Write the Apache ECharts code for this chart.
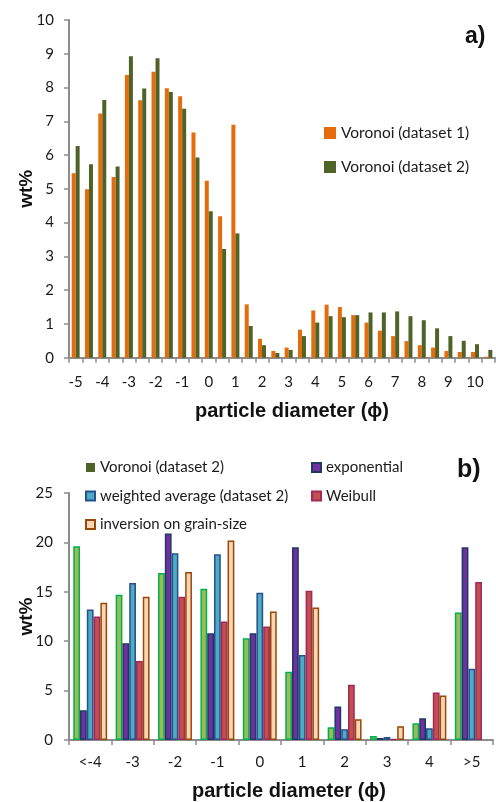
<!DOCTYPE html>
<html>
<head>
<meta charset="utf-8">
<script src="https://cdn.jsdelivr.net/npm/echarts@6/dist/echarts.min.js"></script>
<style>
html,body{margin:0;padding:0;background:#fff;}
#chart{width:496px;height:802px;}
</style>
</head>
<body>
<div id="chart"></div>
<script>
// ---- Panel a data ----
const catsA = ['-5','-4.5','-4','-3.5','-3','-2.5','-2','-1.5','-1','-0.5','0','0.5','1','1.5','2','2.5','3','3.5','4','4.5','5','5.5','6','6.5','7','7.5','8','8.5','9','9.5','10','10.5'];
const voronoi1A = [5.46, 4.99, 7.23, 5.35, 8.37, 7.62, 8.47, 7.98, 7.74, 6.67, 5.24, 4.19, 6.90, 1.58, 0.56, 0.20, 0.30, 0.83, 1.40, 1.57, 1.50, 1.26, 1.04, 0.80, 0.64, 0.49, 0.37, 0.30, 0.20, 0.17, 0.17, 0.03];
const voronoi2A = [6.27, 5.73, 7.63, 5.66, 8.93, 7.97, 8.87, 7.87, 7.37, 5.93, 4.34, 3.22, 3.68, 0.94, 0.37, 0.14, 0.23, 0.64, 1.04, 1.23, 1.20, 1.26, 1.34, 1.34, 1.37, 1.23, 1.11, 0.87, 0.64, 0.50, 0.40, 0.23];
const namesA = ['Voronoi (dataset 1)', 'Voronoi (dataset 2)'];

// ---- Panel b data ----
const catsB = ['<-4','-3','-2','-1','0','1','2','3','4','>5'];
const voronoi2B = [19.6, 14.7, 16.9, 15.3, 10.3, 6.9, 1.3, 0.4, 1.7, 12.9];
const exponentialB = [3.0, 9.8, 20.9, 10.8, 10.8, 19.5, 3.4, 0.2, 2.2, 19.5];
const weightedB = [13.2, 15.9, 18.9, 18.8, 14.9, 8.6, 1.1, 0.3, 1.2, 7.2];
const weibullB = [12.5, 8.0, 14.5, 12.0, 11.5, 15.1, 5.6, 0.1, 4.8, 16.0];
const inversionB = [13.9, 14.5, 17.0, 20.2, 13.0, 13.4, 2.1, 1.4, 4.5, null];
const namesB = ['Voronoi (dataset 2)', 'exponential', 'weighted average (dataset 2)', 'Weibull', 'inversion on grain-size'];

const labelFont = 'Lato';
const titleFont = 'Liberation Sans';
const axisGray = '#8c8c8c';

const chart = echarts.init(document.getElementById('chart'), null, {renderer: 'canvas'});

function xAxisCommon(extra) {
  return Object.assign({
    type: 'category',
    boundaryGap: true,
    axisLine: {show: true, lineStyle: {color: axisGray, width: 2}},
    axisTick: {show: true, interval: 0, length: 5, lineStyle: {color: axisGray, width: 1.5}},
    splitLine: {show: false},
    nameLocation: 'middle'
  }, extra);
}
function yAxisCommon(extra) {
  return Object.assign({
    type: 'value',
    axisLine: {show: true, lineStyle: {color: axisGray, width: 2}},
    axisTick: {show: true, length: 5, lineStyle: {color: axisGray, width: 1.5}},
    splitLine: {show: false},
    nameLocation: 'middle',
    nameRotate: 90,
    nameMoveOverlap: false,
    nameTextStyle: {fontFamily: titleFont, fontWeight: 'bold', fontSize: 19, color: '#111'}
  }, extra);
}

const option = {
  animation: false,
  backgroundColor: '#fff',
  grid: [
    {left: 69, top: 20, width: 426, height: 337.7, containLabel: false},
    {left: 69, top: 493, width: 424, height: 250, containLabel: false}
  ],
  xAxis: [
    xAxisCommon({
      gridIndex: 0, data: catsA,
      name: 'particle diameter (\u03d5)', nameGap: 44,
      nameTextStyle: {fontFamily: titleFont, fontWeight: 'bold', fontSize: 20, color: '#111', padding: [0, 0, 0, 20]},
      axisLabel: {interval: 1, margin: 17, fontFamily: labelFont, fontSize: 15, color: '#1a1a1a'}
    }),
    xAxisCommon({
      gridIndex: 1, data: catsB,
      name: 'particle diameter (\u03d5)', nameGap: 41,
      nameTextStyle: {fontFamily: titleFont, fontWeight: 'bold', fontSize: 20, color: '#111', padding: [0, 0, 0, 16]},
      axisLabel: {interval: 0, margin: 15, fontFamily: labelFont, fontSize: 15, color: '#1a1a1a'}
    })
  ],
  yAxis: [
    yAxisCommon({
      gridIndex: 0, min: 0, max: 10, interval: 1,
      name: 'wt%', nameGap: 33,
      axisLabel: {margin: 15, fontFamily: labelFont, fontSize: 15, color: '#1a1a1a'}
    }),
    yAxisCommon({
      gridIndex: 1, min: 0, max: 25, interval: 5,
      name: 'wt%', nameGap: 33,
      axisLabel: {margin: 16, fontFamily: labelFont, fontSize: 15, color: '#1a1a1a'}
    })
  ],
  legend: [
    {
      data: namesA, orient: 'vertical', left: 319, top: 119,
      icon: 'rect', itemWidth: 12, itemHeight: 12, itemGap: 16, itemTextGap: 4,
      textStyle: {fontFamily: labelFont, fontSize: 15.5, color: '#1a1a1a', lineHeight: 18},
      selectedMode: false
    },
    {
      data: [namesB[0], namesB[2], namesB[4]], orient: 'vertical', left: 80, top: 454,
      icon: 'rect', itemWidth: 9, itemHeight: 9, itemGap: 11.5, itemTextGap: 5,
      textStyle: {fontFamily: labelFont, fontSize: 15, color: '#1a1a1a', lineHeight: 17},
      selectedMode: false
    },
    {
      data: [namesB[1], namesB[3]], orient: 'vertical', left: 306, top: 454,
      icon: 'rect', itemWidth: 9, itemHeight: 9, itemGap: 11.5, itemTextGap: 5,
      textStyle: {fontFamily: labelFont, fontSize: 15, color: '#1a1a1a', lineHeight: 17},
      selectedMode: false
    }
  ],
  graphic: [
    {type: 'text', left: 465, top: 25, style: {text: 'a)', fontFamily: titleFont, fontWeight: 'bold', fontSize: 23, fill: '#111'}},
    {type: 'text', left: 457, top: 458, style: {text: 'b)', fontFamily: titleFont, fontWeight: 'bold', fontSize: 25, fill: '#111'}}
  ],
  series: [
    {name: namesA[0], type: 'bar', xAxisIndex: 0, yAxisIndex: 0, data: voronoi1A,
     barGap: '0%', barCategoryGap: '40%', itemStyle: {color: '#E46C0A'}},
    {name: namesA[1], type: 'bar', xAxisIndex: 0, yAxisIndex: 0, data: voronoi2A,
     barGap: '0%', barCategoryGap: '40%', itemStyle: {color: '#4F6228'}},

    {name: namesB[0], type: 'bar', xAxisIndex: 1, yAxisIndex: 1, data: voronoi2B,
     barGap: '0%', barCategoryGap: '20%', itemStyle: {color: '#9BBB59', borderColor: '#00B050', borderWidth: 1.5}},
    {name: namesB[1], type: 'bar', xAxisIndex: 1, yAxisIndex: 1, data: exponentialB,
     barGap: '0%', barCategoryGap: '20%', itemStyle: {color: '#7030A0', borderColor: '#1F3864', borderWidth: 1.5}},
    {name: namesB[2], type: 'bar', xAxisIndex: 1, yAxisIndex: 1, data: weightedB,
     barGap: '0%', barCategoryGap: '20%', itemStyle: {color: '#4BACC6', borderColor: '#2A4F8A', borderWidth: 1.5}},
    {name: namesB[3], type: 'bar', xAxisIndex: 1, yAxisIndex: 1, data: weibullB,
     barGap: '0%', barCategoryGap: '20%', itemStyle: {color: '#C0504D', borderColor: '#A2285E', borderWidth: 1.5}},
    {name: namesB[4], type: 'bar', xAxisIndex: 1, yAxisIndex: 1, data: inversionB,
     barGap: '0%', barCategoryGap: '20%', itemStyle: {color: '#FCD5B5', borderColor: '#984807', borderWidth: 1.5}}
  ]
};
chart.setOption(option);
</script>
</body>
</html>
